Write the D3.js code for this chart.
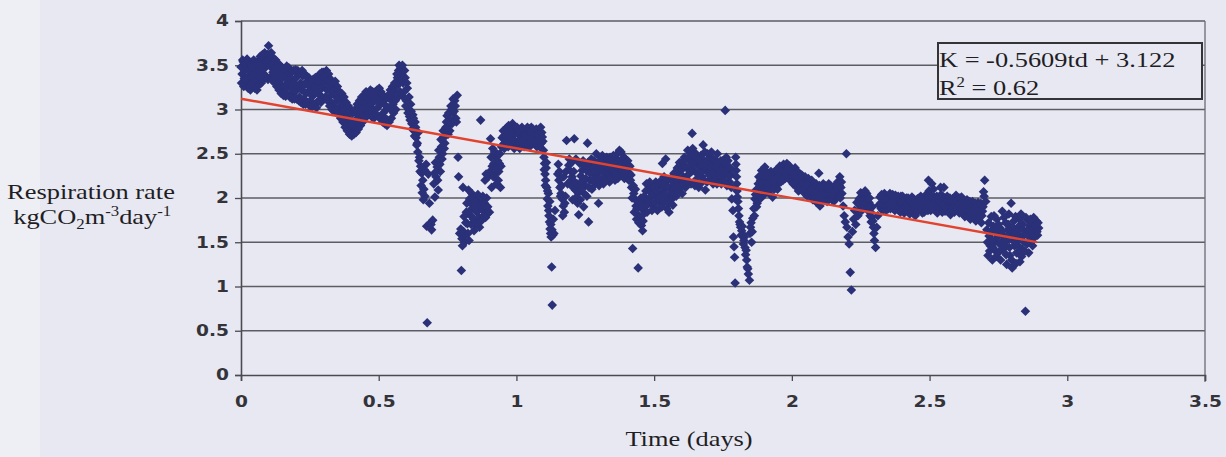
<!DOCTYPE html>
<html>
<head>
<meta charset="utf-8">
<script src="https://cdn.jsdelivr.net/npm/d3@7"></script>
<style>
  html, body { margin: 0; padding: 0; background: #e8e8f2; }
  svg { display: block; }
</style>
</head>
<body>
<svg id="chart" width="1226" height="457"></svg>
<script>
// Respiration rate K (kgCO2 m-3 day-1) against elapsed time td (days)
const pointsDay0 = [
  [0.000,3.48],[0.004,3.40],[0.008,3.54],[0.012,3.35],[0.016,3.45],[0.020,3.28],[0.024,3.50],[0.028,3.38],[0.032,3.44],[0.036,3.30],
  [0.040,3.42],[0.044,3.36],[0.048,3.47],[0.052,3.33],[0.056,3.40],[0.060,3.29],[0.064,3.45],[0.068,3.37],[0.072,3.52],[0.076,3.41],
  [0.080,3.56],[0.084,3.46],[0.088,3.58],[0.092,3.50],[0.096,3.62],[0.100,3.72],[0.104,3.55],[0.108,3.48],[0.112,3.58],[0.116,3.42],
  [0.120,3.52],[0.124,3.38],[0.128,3.47],[0.132,3.33],[0.136,3.44],[0.140,3.30],[0.144,3.40],[0.148,3.26],[0.152,3.36],[0.156,3.22],
  [0.160,3.38],[0.164,3.28],[0.168,3.42],[0.172,3.32],[0.176,3.40],[0.180,3.24],[0.184,3.35],[0.188,3.18],[0.192,3.30],[0.196,3.20],
  [0.200,3.36],[0.204,3.26],[0.208,3.40],[0.212,3.14],[0.216,3.30],[0.220,3.22],[0.224,3.38],[0.228,3.12],[0.232,3.28],[0.236,3.18],
  [0.240,3.32],[0.244,3.20],[0.248,3.26],[0.252,3.10],[0.256,3.22],[0.260,3.15],[0.264,3.28],[0.268,3.18],[0.272,3.24],[0.276,3.08],
  [0.280,3.20],[0.284,3.30],[0.288,3.16],[0.292,3.36],[0.296,3.25],[0.300,3.42],[0.304,3.30],[0.308,3.38],[0.312,3.22],[0.316,3.32],
  [0.320,3.14],[0.324,3.26],[0.328,3.08],[0.332,3.20],[0.336,3.04],[0.340,3.16],[0.344,3.24],[0.348,3.10],[0.352,3.16],[0.356,3.02],
  [0.360,3.12],[0.364,2.96],[0.368,3.06],[0.372,2.92],[0.376,3.00],[0.380,2.86],[0.384,2.94],[0.388,2.80],[0.392,2.90],[0.396,2.78],
  [0.400,2.86],[0.404,2.74],[0.408,2.82],[0.412,2.76],[0.416,2.88],[0.420,2.80],[0.424,2.94],[0.428,2.84],[0.432,3.00],[0.436,2.90],
  [0.440,3.04],[0.444,2.94],[0.448,3.08],[0.452,2.98],[0.456,3.14],[0.460,3.04],[0.464,3.10],[0.468,3.18],[0.472,3.06],[0.476,3.14],
  [0.480,3.00],[0.484,3.10],[0.488,3.20],[0.492,3.12],[0.496,3.02],[0.500,3.16],[0.504,3.06],[0.508,3.20],[0.512,3.10],[0.516,2.96],
  [0.520,3.06],[0.524,2.90],[0.528,3.00],[0.532,2.88],[0.536,3.02],[0.540,3.12],[0.544,3.00],[0.548,3.16],[0.552,3.06],[0.556,3.20],
  [0.560,3.10],[0.564,3.26],[0.568,3.36],[0.572,3.44],[0.576,3.30],[0.580,3.48],
  [0.002,3.30],[0.006,3.56],[0.010,3.26],[0.014,3.52],[0.018,3.34],[0.022,3.57],[0.026,3.24],[0.030,3.54],[0.034,3.22],[0.038,3.50],
  [0.042,3.27],[0.046,3.56],[0.050,3.24],[0.054,3.52],[0.058,3.22],[0.062,3.55],[0.066,3.28],[0.070,3.60],[0.074,3.30],[0.078,3.62],
  [0.082,3.34],[0.086,3.64],[0.090,3.38],[0.094,3.56],[0.098,3.34],[0.102,3.62],[0.106,3.36],[0.110,3.64],[0.114,3.33],[0.118,3.58],
  [0.122,3.30],[0.126,3.56],[0.130,3.26],[0.134,3.52],[0.138,3.22],[0.142,3.50],[0.146,3.18],[0.150,3.47],[0.154,3.16],[0.158,3.46],
  [0.162,3.15],[0.166,3.49],[0.170,3.17],[0.174,3.47],[0.178,3.14],[0.182,3.44],[0.186,3.12],[0.190,3.44],[0.194,3.12],[0.198,3.45],
  [0.202,3.12],[0.206,3.44],[0.210,3.10],[0.214,3.42],[0.218,3.08],[0.222,3.44],[0.226,3.06],[0.230,3.40],[0.234,3.06],[0.238,3.38],
  [0.242,3.08],[0.246,3.36],[0.250,3.04],[0.254,3.33],[0.258,3.03],[0.262,3.34],[0.266,3.06],[0.270,3.36],[0.274,3.02],[0.278,3.32],
  [0.282,3.10],[0.286,3.40],[0.290,3.08],[0.294,3.42],[0.298,3.12],[0.302,3.38],[0.306,3.14],[0.310,3.44],[0.314,3.10],[0.318,3.40],
  [0.322,3.04],[0.326,3.34],[0.330,3.00],[0.334,3.30],[0.338,2.98],[0.342,3.32],[0.346,2.98],[0.350,3.26],[0.354,2.94],[0.358,3.20],
  [0.362,2.90],[0.366,3.18],[0.370,2.86],[0.374,3.14],[0.378,2.80],[0.382,3.08],[0.386,2.76],[0.390,3.04],[0.394,2.72],[0.398,3.00],
  [0.402,2.70],[0.406,2.96],[0.410,2.72],[0.414,3.00],[0.418,2.74],[0.422,3.06],[0.426,2.78],[0.430,3.10],[0.434,2.82],[0.438,3.14],
  [0.442,2.86],[0.446,3.16],[0.450,2.90],[0.454,3.20],[0.458,2.94],[0.462,3.18],[0.466,2.96],[0.470,3.22],[0.474,2.92],[0.478,3.20],
  [0.482,2.90],[0.486,3.16],[0.490,2.94],[0.494,3.22],[0.498,2.92],[0.502,3.24],[0.506,2.90],[0.510,3.18],[0.514,2.86],[0.518,3.14],
  [0.522,2.84],[0.526,3.12],[0.530,2.82],[0.534,3.16],[0.538,2.86],[0.542,3.22],[0.546,2.90],[0.550,3.26],[0.554,2.96],[0.558,3.30],
  [0.562,3.00],[0.566,3.40],[0.570,3.14],[0.574,3.50],[0.578,3.20],
  [0.584,3.42],[0.588,3.30],[0.592,3.20],[0.596,3.36],[0.600,3.10],[0.604,3.24],[0.608,3.00],[0.612,2.92],[0.616,3.06],[0.620,2.84],
  [0.624,2.94],[0.628,2.76],[0.632,2.86],[0.636,2.68],[0.640,2.62],[0.644,2.74],[0.648,2.46],[0.652,2.36],[0.656,2.28],[0.660,2.20],
  [0.664,2.10],[0.668,2.02],[0.672,2.38],[0.676,0.59],[0.680,2.27],[0.684,1.94],[0.688,1.72],[0.692,1.64],[0.696,1.75],[0.700,2.16],
  [0.704,2.01],[0.708,2.24],[0.712,2.35],[0.716,2.09],[0.720,2.46],[0.724,2.30],[0.728,2.58],[0.732,2.50],[0.736,2.69],[0.740,2.62],
  [0.744,2.80],[0.748,2.93],[0.752,2.72],[0.756,2.83],[0.760,2.88],[0.764,3.00],[0.768,2.96],[0.772,3.05],[0.776,3.10],[0.780,2.90],
  [0.785,3.16],[0.788,2.46],[0.790,2.24],[0.794,1.60],[0.798,1.65],[0.800,1.18],[0.802,1.54],[0.804,1.46],[0.806,2.12],[0.810,1.79],
  [0.812,1.50],[0.814,1.58],[0.818,1.84],[0.822,1.71],[0.826,2.09],[0.828,1.52],[0.830,1.99],[0.834,1.80],[0.838,2.05],[0.842,1.92],
  [0.846,1.63],[0.850,1.88],[0.854,1.99],[0.858,1.76],[0.862,1.95],[0.866,1.67],[0.870,2.88],[0.874,1.90],[0.878,2.02],[0.882,1.85],
  [0.886,2.20],[0.890,2.27],[0.894,1.82],[0.898,2.24],[0.902,1.84],[0.906,2.67],[0.910,2.12],[0.914,2.56],[0.918,2.39],[0.922,2.27],
  [0.926,2.46],[0.930,2.50],[0.934,2.20],[0.938,2.39],[0.942,2.12],[0.946,2.58],[0.950,2.60],[0.954,2.70],[0.958,2.62],[0.962,2.65],
  [0.966,2.80],[0.970,2.58],[0.974,2.74],[0.978,2.68],[0.982,2.76],[0.986,2.84],[0.990,2.66],[0.994,2.73],[0.998,2.62],
  [0.582,3.36],[0.586,3.50],[0.590,3.14],[0.594,3.44],[0.598,3.04],[0.602,3.30],[0.606,2.96],[0.610,3.14],[0.614,2.88],[0.618,2.98],
  [0.622,2.78],[0.626,2.90],[0.630,2.70],[0.634,2.80],[0.638,2.60],[0.642,2.52],[0.646,2.42],[0.650,2.30],[0.654,2.14],[0.658,2.06],
  [0.662,1.98],[0.666,2.32],[0.674,1.68],[0.690,1.70],[0.702,2.28],[0.706,2.40],[0.714,2.20],[0.718,2.54],[0.722,2.38],[0.726,2.66],
  [0.730,2.44],[0.734,2.76],[0.738,2.56],[0.742,2.70],[0.746,2.86],[0.750,2.78],[0.754,2.96],[0.758,2.76],[0.762,3.04],[0.766,2.84],
  [0.770,3.12],[0.774,2.98],[0.778,3.04],[0.782,2.86],
  [0.808,1.62],[0.816,1.72],[0.820,1.94],[0.824,1.60],[0.832,1.86],[0.836,1.70],[0.840,2.00],[0.844,1.76],[0.848,1.96],[0.852,1.70],
  [0.856,1.84],[0.860,2.04],[0.864,1.78],[0.868,1.90],[0.872,1.74],[0.876,1.96],[0.880,1.80],[0.884,1.94],[0.888,1.78],[0.892,2.00],
  [0.896,1.90],[0.904,2.30],[0.908,2.46],[0.912,2.36],[0.916,2.24],[0.920,2.52],[0.924,2.34],[0.928,2.16],[0.932,2.42],[0.936,2.30],
  [0.940,2.50],[0.944,2.36],[0.948,2.68],[0.952,2.76],[0.956,2.56],[0.960,2.78],[0.964,2.70],[0.968,2.62],[0.972,2.82],[0.976,2.60],
  [0.980,2.70],[0.984,2.64],[0.988,2.78],[0.992,2.56],[0.996,2.80]
];

const pointsDay1 = [
  [1.002,2.80],[1.006,2.72],[1.010,2.65],[1.014,2.78],[1.018,2.69],[1.022,2.60],[1.026,2.74],[1.030,2.66],[1.034,2.76],[1.038,2.70],
  [1.042,2.62],[1.046,2.78],[1.050,2.68],[1.054,2.80],[1.058,2.73],[1.062,2.64],[1.066,2.76],[1.070,2.70],[1.074,2.58],[1.078,2.66],
  [1.082,2.76],[1.086,2.72],[1.090,2.62],[1.094,2.69],[1.098,2.54],
  [1.004,2.60],[1.008,2.76],[1.012,2.56],[1.016,2.64],[1.020,2.80],[1.024,2.66],[1.028,2.58],[1.032,2.70],[1.036,2.60],[1.040,2.80],
  [1.044,2.68],[1.048,2.58],[1.052,2.74],[1.056,2.62],[1.060,2.78],[1.064,2.70],[1.068,2.62],[1.072,2.78],[1.076,2.72],[1.080,2.64],
  [1.084,2.58],[1.088,2.80],[1.092,2.74],[1.096,2.64],
  [1.100,2.46],[1.102,2.39],[1.104,2.27],[1.106,2.20],[1.108,2.34],[1.110,2.12],[1.112,1.99],[1.114,1.91],[1.116,2.05],[1.118,1.80],
  [1.120,1.73],[1.122,1.65],[1.124,1.60],[1.126,1.56],[1.128,1.22],[1.130,0.79],[1.132,1.58],[1.136,1.60],[1.140,1.86],
  [1.101,2.32],[1.105,2.14],[1.109,2.40],[1.113,2.08],[1.117,1.86],[1.121,1.96],[1.125,1.70],[1.129,1.64],[1.134,1.76],
  [1.150,2.27],[1.154,2.20],[1.158,2.12],[1.162,2.05],[1.166,1.99],[1.170,1.91],[1.174,1.84],[1.178,2.02],[1.182,2.65],[1.186,2.16],
  [1.152,2.38],[1.156,2.30],[1.160,2.02],[1.164,2.14],[1.168,1.80],[1.172,2.24],[1.176,1.94],[1.180,2.30],
  [1.190,2.37],[1.194,2.31],[1.198,2.20],[1.202,2.24],[1.206,2.12],[1.210,2.67],[1.214,2.09],[1.218,2.01],[1.222,1.94],[1.226,1.81],
  [1.230,2.39],[1.234,2.25],[1.238,2.31],[1.242,2.42],[1.246,2.05],[1.250,2.14],[1.254,2.31],[1.258,2.62],[1.262,1.73],[1.266,2.20],
  [1.270,2.36],[1.274,2.10],[1.278,2.28],
  [1.192,2.44],[1.196,2.16],[1.200,2.40],[1.204,1.98],[1.208,2.30],[1.212,2.18],[1.216,2.44],[1.220,2.16],[1.224,2.06],[1.228,2.14],
  [1.232,1.98],[1.236,2.12],[1.240,2.20],[1.244,1.90],[1.248,2.36],[1.252,2.22],[1.256,2.02],[1.260,2.40],[1.264,2.12],[1.268,2.28],
  [1.272,2.44],[1.276,2.20],[1.280,2.34],
  [1.282,2.42],[1.286,2.16],[1.290,2.50],[1.294,2.24],[1.298,1.94],[1.302,2.31],[1.306,2.46],[1.310,2.20],[1.314,2.38],[1.318,2.28],
  [1.322,2.44],[1.326,2.31],[1.330,2.24],[1.334,2.40],[1.338,2.18],[1.342,2.35],[1.346,2.42],[1.350,2.26],[1.354,2.36],[1.358,2.20],
  [1.362,2.44],[1.366,2.50],[1.370,2.30],[1.374,2.54],[1.378,2.27],[1.382,2.42],[1.386,2.34],[1.390,2.46],[1.394,2.31],[1.398,2.38],
  [1.402,2.24],[1.406,2.35],[1.410,2.28],
  [1.284,2.30],[1.288,2.36],[1.292,2.18],[1.296,2.40],[1.300,2.14],[1.304,2.22],[1.308,2.34],[1.312,2.48],[1.316,2.16],[1.320,2.36],
  [1.324,2.20],[1.328,2.46],[1.332,2.34],[1.336,2.28],[1.340,2.46],[1.344,2.22],[1.348,2.32],[1.352,2.48],[1.356,2.30],[1.360,2.26],
  [1.364,2.36],[1.368,2.22],[1.372,2.42],[1.376,2.36],[1.380,2.52],[1.384,2.26],[1.388,2.40],[1.392,2.22],[1.396,2.44],[1.400,2.32],
  [1.404,2.42],[1.408,2.20],[1.412,2.36],
  [1.414,2.20],[1.418,2.12],[1.422,1.43],[1.426,2.05],[1.430,1.99],[1.434,1.91],[1.438,1.88],[1.442,1.21],[1.446,1.80],[1.450,1.77],
  [1.454,1.69],[1.458,1.63],[1.462,1.86],[1.466,1.96],[1.470,2.08],[1.474,1.84],
  [1.416,2.26],[1.420,2.00],[1.424,2.14],[1.428,1.84],[1.432,2.10],[1.436,1.76],[1.440,1.96],[1.444,1.72],[1.448,1.92],[1.452,2.00],
  [1.456,1.80],[1.460,1.74],[1.464,2.02],[1.468,1.90],[1.472,2.16],[1.476,1.96],
  [1.478,2.16],[1.482,2.09],[1.486,1.94],[1.490,2.01],[1.494,2.14],[1.498,1.90],[1.502,2.05],[1.506,2.18],[1.510,1.97],[1.514,2.12],
  [1.518,2.05],[1.522,1.94],[1.526,2.20],[1.530,2.39],[1.534,2.08],[1.538,1.96],[1.542,2.44],[1.546,1.88],[1.550,2.01],[1.554,1.84],
  [1.558,2.10],[1.562,1.98],[1.566,2.14],[1.570,2.04],[1.574,2.20],[1.578,2.09],[1.582,2.27],[1.586,2.16],
  [1.480,1.98],[1.484,2.18],[1.488,2.06],[1.492,1.86],[1.496,2.04],[1.500,2.12],[1.504,1.94],[1.508,2.08],[1.512,1.86],[1.516,2.00],
  [1.520,2.16],[1.524,2.02],[1.528,1.90],[1.532,2.14],[1.536,2.24],[1.540,2.04],[1.544,2.18],[1.548,1.96],[1.552,2.12],[1.556,1.94],
  [1.560,2.22],[1.564,2.06],[1.568,1.92],[1.572,2.28],[1.576,2.12],[1.580,2.02],[1.584,2.34],[1.588,2.10],
  [1.590,2.30],[1.594,2.20],[1.598,2.39],[1.602,2.05],[1.606,2.24],[1.610,2.46],[1.614,2.12],[1.618,2.34],[1.622,2.54],[1.626,2.27],
  [1.630,2.42],[1.634,2.16],[1.638,2.73],[1.642,2.46],[1.646,2.31],[1.650,2.20],[1.654,2.40],[1.658,2.27],[1.662,2.12],[1.666,2.35],
  [1.670,2.48],[1.674,2.24],[1.678,2.60],[1.682,2.42],[1.686,2.09],[1.690,2.31],[1.694,2.50],[1.698,2.35],[1.702,2.46],[1.706,2.22],
  [1.710,2.39],[1.714,2.16],[1.718,2.31],[1.722,2.42],[1.726,2.27],[1.730,2.50],[1.734,2.34],[1.738,2.20],[1.742,2.42],[1.746,2.30],
  [1.750,2.24],[1.754,2.36],[1.758,2.99],[1.762,2.46],[1.766,2.28],[1.770,2.35],[1.774,2.18],[1.778,2.27],[1.782,1.99],[1.786,1.86],
  [1.788,1.56],[1.790,1.45],[1.792,1.33],[1.794,1.04],
  [1.592,2.40],[1.596,2.14],[1.600,2.32],[1.604,2.42],[1.608,2.16],[1.612,2.36],[1.616,2.22],[1.620,2.44],[1.624,2.18],[1.628,2.36],
  [1.632,2.50],[1.636,2.30],[1.640,2.56],[1.644,2.38],[1.648,2.14],[1.652,2.50],[1.656,2.18],[1.660,2.44],[1.664,2.26],[1.668,2.16],
  [1.672,2.38],[1.676,2.30],[1.680,2.20],[1.684,2.52],[1.688,2.36],[1.692,2.18],[1.696,2.42],[1.700,2.26],[1.704,2.34],[1.708,2.52],
  [1.712,2.28],[1.716,2.44],[1.720,2.20],[1.724,2.36],[1.728,2.16],[1.732,2.40],[1.736,2.26],[1.740,2.32],[1.744,2.16],[1.748,2.42],
  [1.752,2.20],[1.756,2.30],[1.760,2.38],[1.764,2.14],[1.768,2.42],[1.772,2.24],[1.776,2.34],[1.780,2.12],
  [1.796,2.46],[1.798,2.31],[1.800,2.16],[1.802,2.01],[1.806,1.88],[1.810,1.73],[1.814,1.67],[1.818,1.63],[1.822,1.59],[1.826,1.52],
  [1.830,1.44],[1.834,1.41],[1.838,1.22],[1.842,1.14],[1.846,1.07],[1.850,1.67],[1.854,1.50],[1.858,1.77],
  [1.797,2.38],[1.799,2.24],[1.801,2.08],[1.804,1.96],[1.808,1.80],[1.812,1.70],[1.816,1.58],[1.820,1.68],[1.824,1.48],[1.828,1.56],
  [1.832,1.36],[1.836,1.30],[1.840,1.20],[1.848,1.60],[1.852,1.72],[1.856,1.62],
  [1.862,1.88],[1.866,1.99],[1.870,2.09],[1.874,1.94],[1.878,2.16],[1.882,2.01],[1.886,2.20],[1.890,2.31],[1.894,2.09],[1.898,2.22],
  [1.902,2.35],[1.906,2.12],[1.910,2.20],[1.914,2.06],[1.918,2.28],[1.922,2.14],[1.926,2.24],[1.930,2.01],[1.934,2.18],[1.938,2.30],
  [1.942,2.12],[1.946,2.24],[1.950,2.16],[1.954,2.31],[1.958,2.22],[1.962,2.35],[1.966,2.26],[1.970,2.38],[1.974,2.30],[1.978,2.35],
  [1.982,2.39],[1.986,2.26],[1.990,2.31],[1.994,2.20],[1.998,2.33],
  [1.864,1.80],[1.868,2.04],[1.872,1.90],[1.876,2.02],[1.880,2.24],[1.884,2.12],[1.888,2.00],[1.892,2.26],[1.896,2.16],[1.900,2.04],
  [1.904,2.26],[1.908,2.30],[1.912,2.14],[1.916,2.24],[1.920,2.10],[1.924,2.30],[1.928,2.18],[1.932,2.26],[1.936,2.10],[1.940,2.22],
  [1.944,2.32],[1.948,2.10],[1.952,2.26],[1.956,2.36],[1.960,2.18],[1.964,2.30],[1.968,2.20],[1.972,2.28],[1.976,2.22],[1.980,2.30],
  [1.984,2.34],[1.988,2.22],[1.992,2.36],[1.996,2.28]
];

const pointsDay2 = [
  [2.002,2.24],[2.006,2.30],[2.010,2.18],[2.014,2.27],[2.018,2.12],[2.022,2.24],[2.026,2.16],[2.030,2.27],[2.034,2.20],[2.038,2.10],
  [2.042,2.22],[2.046,2.14],[2.050,2.20],[2.054,2.08],[2.058,2.16],[2.062,2.12],[2.066,2.04],[2.070,2.14],[2.074,2.05],[2.078,2.16],
  [2.082,1.99],[2.086,2.10],[2.090,1.95],[2.094,2.02],[2.098,2.28],[2.102,1.91],[2.106,2.12],[2.110,2.04],[2.114,2.16],[2.118,2.09],
  [2.122,1.99],[2.126,2.12],[2.130,2.04],[2.134,2.16],[2.138,2.01],[2.142,2.09],[2.146,1.99],[2.150,2.12],[2.154,2.04],[2.158,2.14],
  [2.162,2.08],[2.166,2.18],[2.170,2.05],[2.174,2.24],[2.178,2.12],[2.182,2.05],[2.186,1.91],[2.190,1.80],[2.194,1.73],[2.198,2.50],
  [2.200,1.67],[2.204,1.56],[2.208,1.48],[2.212,1.16],[2.216,0.96],[2.220,1.62],[2.224,1.76],[2.228,1.86],[2.232,1.70],[2.236,1.95],
  [2.240,1.80],
  [2.000,2.32],[2.004,2.16],[2.008,2.26],[2.012,2.34],[2.016,2.20],[2.020,2.30],[2.024,2.08],[2.028,2.22],[2.032,2.12],[2.036,2.26],
  [2.040,2.16],[2.044,2.06],[2.048,2.24],[2.052,2.14],[2.056,2.02],[2.060,2.22],[2.064,2.18],[2.068,2.08],[2.072,2.20],[2.076,1.98],
  [2.080,2.10],[2.084,2.04],[2.088,2.16],[2.092,2.08],[2.096,1.98],[2.100,2.14],[2.104,2.04],[2.108,1.96],[2.112,2.10],[2.116,2.02],
  [2.120,2.14],[2.124,2.06],[2.128,1.96],[2.132,2.10],[2.136,2.06],[2.140,2.14],[2.144,2.04],[2.148,2.08],[2.152,1.96],[2.156,2.08],
  [2.160,2.00],[2.164,2.12],[2.168,2.02],[2.172,2.14],[2.176,2.00],[2.180,2.18],
  [2.244,1.99],[2.248,1.88],[2.252,2.01],[2.256,1.92],[2.260,2.05],[2.264,1.95],[2.268,2.02],[2.272,2.05],[2.276,1.86],[2.280,1.95],
  [2.284,1.80],[2.288,1.73],[2.292,1.90],[2.296,1.67],[2.300,1.52],[2.304,1.44],[2.308,1.67],[2.312,1.80],[2.316,1.92],
  [2.246,1.92],[2.250,2.06],[2.254,1.86],[2.258,1.98],[2.262,1.90],[2.266,2.08],[2.270,1.94],[2.274,1.98],[2.278,1.90],[2.282,2.00],
  [2.286,1.84],[2.290,1.78],[2.294,1.74],[2.298,1.60],
  [2.320,2.01],[2.324,1.88],[2.328,1.99],[2.332,1.91],[2.336,2.05],[2.340,1.95],[2.344,2.01],[2.348,1.92],[2.352,1.99],[2.356,2.05],
  [2.360,1.95],[2.364,2.01],[2.368,1.88],[2.372,1.98],[2.376,2.03],[2.380,1.93],
  [2.384,1.98],[2.388,1.86],[2.392,1.95],[2.396,2.02],[2.400,1.90],[2.404,1.97],[2.408,1.83],[2.412,1.94],[2.416,2.00],[2.420,1.88],
  [2.424,1.96],[2.428,1.82],[2.432,1.92],[2.436,2.01],[2.440,1.87],[2.444,1.95],[2.448,1.80],[2.452,1.91],[2.456,1.99],[2.460,1.86],
  [2.464,1.94],[2.468,2.02],[2.472,1.89],[2.476,1.96],[2.480,1.84],[2.484,1.93],[2.488,2.04],[2.492,1.90],[2.496,2.20],[2.500,1.97],
  [2.504,1.86],[2.508,2.16],[2.512,1.94],[2.516,2.01],[2.520,1.88],[2.524,1.96],[2.528,1.83],[2.532,1.92],[2.536,2.00],[2.540,2.12],
  [2.544,1.89],[2.548,1.97],[2.552,2.12],[2.556,1.85],[2.560,1.94],[2.564,2.02],[2.568,1.88],[2.572,1.96],[2.576,1.81],[2.580,1.92],
  [2.584,1.99],[2.588,1.86],[2.592,1.95],[2.596,2.03],[2.600,1.89],[2.604,1.97],[2.608,1.83],[2.612,1.93],[2.616,2.01],[2.620,1.87],
  [2.624,1.95],[2.628,1.79],[2.632,1.90],[2.636,1.98],[2.640,1.84],[2.644,1.93],[2.648,1.76],[2.652,1.88],[2.656,1.96],[2.660,1.82],
  [2.664,1.92],[2.668,1.74],[2.672,1.86],[2.676,1.95],[2.680,1.80],[2.684,1.90],[2.688,1.72],[2.692,1.85],[2.696,2.07],[2.700,2.20],
  [2.704,1.96],
  [2.322,1.94],[2.326,2.04],[2.330,1.86],[2.334,1.96],[2.338,1.90],[2.342,1.86],[2.346,1.98],[2.350,1.88],[2.354,1.94],[2.358,1.88],
  [2.362,1.96],[2.366,2.04],[2.370,1.92],[2.374,1.86],[2.378,1.99],[2.382,1.88],[2.386,2.02],[2.390,1.90],[2.394,1.84],[2.398,1.96],
  [2.402,2.02],[2.406,1.88],[2.410,1.98],[2.414,1.86],[2.418,1.92],[2.422,2.00],[2.426,1.90],[2.430,1.97],[2.434,1.86],[2.438,1.93],
  [2.442,1.99],[2.446,1.89],[2.450,1.96],[2.454,1.85],[2.458,1.92],[2.462,2.00],[2.466,1.88],[2.470,1.96],[2.474,1.83],[2.478,2.00],
  [2.482,1.90],[2.486,1.86],[2.490,1.98],[2.494,1.86],[2.498,2.08],[2.502,1.92],[2.506,2.02],[2.510,1.88],[2.514,2.10],[2.518,1.96],
  [2.522,1.86],[2.526,2.02],[2.530,1.90],[2.534,1.86],[2.538,1.96],[2.542,2.04],[2.546,1.84],[2.550,1.92],[2.554,2.00],[2.558,1.90],
  [2.562,1.86],[2.566,1.98],[2.570,1.84],[2.574,2.00],[2.578,1.90],[2.582,1.86],[2.586,1.96],[2.590,1.84],[2.594,1.90],[2.598,1.98],
  [2.602,1.86],[2.606,1.94],[2.610,2.00],[2.614,1.86],[2.618,1.96],[2.622,1.82],[2.626,1.92],[2.630,1.86],[2.634,1.94],[2.638,1.80],
  [2.642,1.88],[2.646,1.96],[2.650,1.82],[2.654,1.90],[2.658,1.78],[2.662,1.86],[2.666,1.94],[2.670,1.80],[2.674,1.90],[2.678,1.76],
  [2.682,1.86],[2.686,1.94],[2.690,1.80],[2.694,1.90],[2.698,2.02],
  [2.708,1.64],[2.712,1.35],[2.716,1.57],[2.720,1.46],[2.724,1.79],[2.728,1.30],[2.732,1.68],[2.736,1.50],[2.740,1.40],[2.744,1.76],
  [2.748,1.60],[2.752,1.39],[2.756,1.66],[2.760,1.50],[2.764,1.85],[2.768,1.57],[2.772,1.46],[2.776,1.72],[2.780,1.25],[2.784,1.64],
  [2.788,1.82],[2.792,1.35],[2.796,1.94],[2.800,1.21],[2.804,1.66],[2.808,1.46],[2.812,1.79],[2.816,1.38],[2.820,1.53],[2.824,1.68],
  [2.828,1.28],[2.832,1.82],[2.836,1.42],[2.840,1.64],[2.844,1.50],[2.848,0.72],[2.852,1.60],[2.856,1.75],[2.860,1.38],[2.864,1.68],
  [2.868,1.50],[2.872,1.72],[2.876,1.56],[2.880,1.68],[2.884,1.62],[2.888,1.74],[2.892,1.58],[2.896,1.66],
  [2.710,1.50],[2.714,1.72],[2.718,1.40],[2.722,1.62],[2.726,1.52],[2.730,1.44],[2.734,1.80],[2.738,1.62],[2.742,1.34],[2.746,1.56],
  [2.750,1.70],[2.754,1.48],[2.758,1.30],[2.762,1.62],[2.766,1.42],[2.770,1.78],[2.774,1.56],[2.778,1.36],[2.782,1.52],[2.786,1.70],
  [2.790,1.44],[2.794,1.60],[2.798,1.30],[2.802,1.52],[2.806,1.74],[2.810,1.58],[2.814,1.26],[2.818,1.62],[2.822,1.46],[2.826,1.76],
  [2.830,1.56],[2.834,1.34],[2.838,1.70],[2.842,1.58],[2.846,1.40],[2.850,1.78],[2.854,1.48],[2.858,1.64],[2.862,1.56],[2.866,1.76],
  [2.870,1.62],[2.874,1.46],[2.878,1.78],[2.882,1.56],[2.886,1.68],[2.890,1.62],[2.894,1.72]
];

// Axis ticks and linear fit K = a*td + b
const xTicks = [0, 0.5, 1, 1.5, 2, 2.5, 3, 3.5];
const yTicks = [0, 0.5, 1, 1.5, 2, 2.5, 3, 3.5, 4];
const fitSlope = -0.5609;
const fitIntercept = 3.122;
const fitR2 = 0.62;
const fitRange = [0, 2.89];

const samples = pointsDay0.concat(pointsDay1, pointsDay2);

const svg = d3.select("#chart");
const plot = { left: 241, right: 1205, top: 21, bottom: 375 };
const stretch = 1.2;   // horizontal widening applied to all text

const x = d3.scaleLinear().domain([0, 3.5]).range([plot.left, plot.right]);
const y = d3.scaleLinear().domain([0, 4]).range([plot.bottom, plot.top]);

// page tone, with a slightly paler strip on the far left
svg.append("rect").attr("width", 1226).attr("height", 457).attr("fill", "#e8e8f2");
svg.append("rect").attr("width", 40).attr("height", 457).attr("fill", "#eeeef5");

const axisColor = "#4a4a52";
const sans = "'DejaVu Sans', Verdana, sans-serif";
const serif = "'Liberation Serif', 'Times New Roman', serif";

// horizontal gridlines
svg.append("g")
  .selectAll("line")
  .data(yTicks.filter(d => d > 0))
  .join("line")
  .attr("x1", plot.left).attr("x2", plot.right)
  .attr("y1", d => y(d)).attr("y2", d => y(d))
  .attr("stroke", "#5c5c64").attr("stroke-width", 1.3);

// right frame edge
svg.append("line")
  .attr("x1", plot.right).attr("x2", plot.right)
  .attr("y1", plot.top).attr("y2", plot.bottom + 7)
  .attr("stroke", "#6a6a72").attr("stroke-width", 1.3);

// y axis
const yAxis = svg.append("g")
  .attr("transform", `translate(${plot.left},0)`)
  .call(d3.axisLeft(y).tickValues(yTicks).tickFormat(d3.format("")).tickSize(6).tickPadding(7));
yAxis.select(".domain").attr("stroke", axisColor).attr("stroke-width", 1.6);
yAxis.selectAll(".tick line").attr("stroke", axisColor).attr("stroke-width", 1.3);
yAxis.selectAll(".tick text")
  .attr("x", null)
  .attr("transform", `translate(-12,0) scale(${stretch},1)`)
  .attr("fill", "#333339")
  .style("font-family", sans).style("font-weight", "bold").style("font-size", "15.5px");

// x axis
const xAxis = svg.append("g")
  .attr("transform", `translate(0,${plot.bottom})`)
  .call(d3.axisBottom(x).tickValues(xTicks).tickFormat(d3.format("")).tickSize(6).tickPadding(15));
xAxis.select(".domain").attr("stroke", axisColor).attr("stroke-width", 1.6);
xAxis.selectAll(".tick line").attr("stroke", axisColor).attr("stroke-width", 1.3);
xAxis.selectAll(".tick text")
  .attr("transform", `scale(${stretch},1)`)
  .attr("fill", "#333339")
  .style("font-family", sans).style("font-weight", "bold").style("font-size", "15.5px");

// data markers: filled diamonds
const diamond = d3.symbol().type(d3.symbolSquare).size(46);
svg.append("g")
  .selectAll("path")
  .data(samples)
  .join("path")
  .attr("d", diamond)
  .attr("transform", d => `translate(${x(d[0])},${y(d[1])}) rotate(45)`)
  .attr("fill", "#2b3179");

// linear trend line
svg.append("line")
  .attr("x1", x(fitRange[0])).attr("y1", y(fitSlope * fitRange[0] + fitIntercept))
  .attr("x2", x(fitRange[1])).attr("y2", y(fitSlope * fitRange[1] + fitIntercept))
  .attr("stroke", "#e2432e").attr("stroke-width", 2.4);

// fit equation box
svg.append("rect")
  .attr("x", 938).attr("y", 43).attr("width", 264).attr("height", 56)
  .attr("fill", "#e8e8f2").attr("stroke", "#333338").attr("stroke-width", 2);
const eqText = svg.append("g").attr("transform", `translate(939,0) scale(${stretch},1)`)
  .style("font-family", serif).style("font-size", "22px").attr("fill", "#1e1e24");
eqText.append("text").attr("x", 0).attr("y", 67)
  .text(`K = ${fitSlope}td + ${fitIntercept}`);
const r2 = eqText.append("text").attr("x", 0).attr("y", 95);
r2.append("tspan").text("R");
r2.append("tspan").attr("dy", -8).style("font-size", "14px").text("2");
r2.append("tspan").attr("dy", 8).text(` = ${fitR2}`);

// axis titles
const yTitle = svg.append("g").attr("transform", `translate(91,0) scale(${stretch},1)`)
  .append("text")
  .attr("text-anchor", "middle")
  .style("font-family", serif).style("font-size", "22px").attr("fill", "#1e1e24");
yTitle.append("tspan").attr("x", 0).attr("y", 199).text("Respiration rate");
const line2 = yTitle.append("tspan").attr("x", 1).attr("y", 224);
line2.append("tspan").text("kgCO");
line2.append("tspan").attr("dy", 5).style("font-size", "14px").text("2");
line2.append("tspan").attr("dy", -5).text("m");
line2.append("tspan").attr("dy", -8).style("font-size", "14px").text("-3");
line2.append("tspan").attr("dy", 8).text("day");
line2.append("tspan").attr("dy", -8).style("font-size", "14px").text("-1");

svg.append("g").attr("transform", `translate(689,0) scale(${stretch},1)`)
  .append("text")
  .attr("x", 0).attr("y", 446)
  .attr("text-anchor", "middle")
  .style("font-family", serif).style("font-size", "22px").attr("fill", "#1e1e24")
  .text("Time (days)");
</script>
</body>
</html>
